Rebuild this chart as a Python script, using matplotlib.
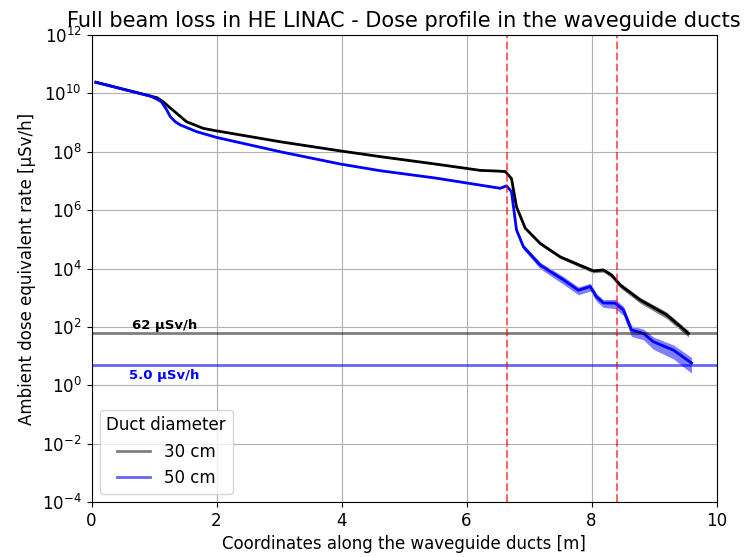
import numpy as np
import matplotlib
matplotlib.use('Agg')
import matplotlib.pyplot as plt

# 30 cm duct (black)
x30 = [0.07, 0.94, 1.05, 1.15, 1.25, 1.36, 1.52, 1.79, 2.0, 3.02, 3.98, 4.62, 5.5, 6.22, 6.45, 6.62,
       6.72, 6.80, 6.94, 7.18, 7.50, 7.87, 8.03, 8.19, 8.32, 8.46, 8.78, 9.20, 9.55]
dose30 = [2.4e10, 8.1e9, 7.1e9, 5.1e9, 3.3e9, 2.1e9, 1.07e9, 6.3e8, 5.2e8, 2.2e8, 1.07e8, 6.8e7, 3.8e7, 2.3e7, 2.2e7, 2.1e7,
          1.2e7, 1.3e6, 2.4e5, 7.2e4, 2.5e4, 1.15e4, 8.3e3, 8.9e3, 6.0e3, 2.7e3, 8.3e2, 2.6e2, 6.0e1]
err30 = [0.02, 0.02, 0.02, 0.02, 0.02, 0.02, 0.02, 0.02, 0.02, 0.02, 0.02, 0.02, 0.03, 0.03, 0.03, 0.03,
         0.05, 0.08, 0.1, 0.12, 0.12, 0.15, 0.15, 0.15, 0.18, 0.2, 0.22, 0.25, 0.25]

# 50 cm duct (blue)
x50 = [0.07, 0.94, 1.05, 1.12, 1.2, 1.26, 1.34, 1.42, 1.68, 2.0, 3.02, 3.98, 4.62, 5.5, 6.22, 6.54, 6.64,
       6.72, 6.80, 6.91, 7.18, 7.55, 7.79, 7.98, 8.08, 8.19, 8.38, 8.51, 8.64, 8.83, 8.99, 9.31, 9.60]
dose50 = [2.4e10, 8.1e9, 6.3e9, 5.1e9, 2.8e9, 1.6e9, 1.07e9, 8.3e8, 4.9e8, 3.1e8, 1.0e8, 3.8e7, 2.24e7, 1.26e7, 7.2e6, 5.6e6, 6.8e6,
          4.3e6, 2.1e5, 5.6e4, 1.3e4, 4.1e3, 1.8e3, 2.4e3, 1.07e3, 6.6e2, 6.5e2, 3.8e2, 7.8e1, 6.0e1, 3.1e1, 1.6e1, 5.8e0]
err50 = [0.02, 0.02, 0.02, 0.02, 0.02, 0.02, 0.02, 0.02, 0.02, 0.02, 0.02, 0.02, 0.03, 0.03, 0.05, 0.05, 0.05,
         0.08, 0.15, 0.2, 0.25, 0.3, 0.3, 0.3, 0.3, 0.3, 0.35, 0.35, 0.4, 0.4, 0.45, 0.5, 0.55]

limit30 = 62
limit50 = 5.0
section_edges = [6.64, 8.40]

fig = plt.figure(figsize=(7.44, 5.57), dpi=100)
ax = fig.add_axes([91.5/744, 1-502/557, 625/744, 467/557])

x30 = np.array(x30); d30 = np.array(dose30); e30 = np.array(err30)
x50 = np.array(x50); d50 = np.array(dose50); e50 = np.array(err50)

ax.plot(x30, d30, color='black', lw=2)
ax.fill_between(x30, d30*(1-e30), d30*(1+e30), color='black', alpha=0.5, lw=0)
ax.plot(x50, d50, color='blue', lw=2)
ax.fill_between(x50, d50*(1-e50), d50*(1+e50), color='blue', alpha=0.5, lw=0)

ax.axhline(limit30, color='black', alpha=0.5, lw=2, label='30 cm')
ax.axhline(limit50, color='blue', alpha=0.6, lw=2, label='50 cm')
ax.text(0.64, limit30*1.35, f'{limit30} µSv/h', fontsize=9.5, fontweight='bold', color='black')
ax.text(0.6, limit50/1.35, f'{limit50} µSv/h', fontsize=9.5, fontweight='bold', color='blue', va='top')

for xe in section_edges:
    ax.axvline(xe, color='red', alpha=0.6, ls='--', lw=1.5)

ax.set_yscale('log')
ax.set_ylim(1e-4, 1e12)
ax.set_xlim(0, 10)
ax.set_yticks([10.0**k for k in range(-4, 13, 2)])
ax.minorticks_off()
ax.grid(True)
ax.set_xlabel('Coordinates along the waveguide ducts [m]', fontsize=12)
ax.set_ylabel('Ambient dose equivalent rate [µSv/h]', fontsize=12)
ax.set_title('Full beam loss in HE LINAC - Dose profile in the waveguide ducts', fontsize=15)
ax.tick_params(labelsize=12)
ax.legend(title='Duct diameter', loc='lower left', fontsize=12, title_fontsize=12)

fig.savefig('out.png', dpi=100)
